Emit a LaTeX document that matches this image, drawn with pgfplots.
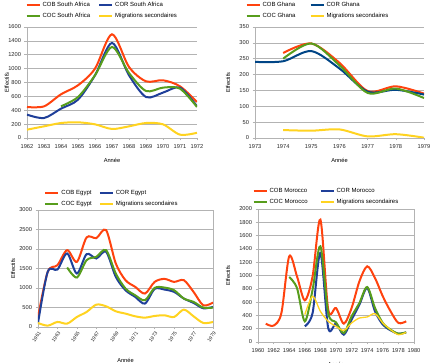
\documentclass[border=0pt]{standalone}
\usepackage{fontspec}
\setmainfont{Liberation Sans}
\usepackage{pgfplots}
\pgfplotsset{compat=1.18}
\definecolor{cob}{HTML}{FF420E}
\definecolor{cor}{HTML}{1F3F99}
\definecolor{corg}{HTML}{004586}
\definecolor{coc}{HTML}{579D1C}
\definecolor{mig}{HTML}{FFD320}
\definecolor{gridc}{HTML}{B3B3B3}
\pgfplotsset{
 base/.style={
  scale only axis,
  axis line style={gridc, line width=0.6pt},
  ymajorgrids, grid style={gridc, line width=0.6pt},
  tick style={gridc, line width=0.5pt},
  major tick length=2.5pt,
  xtick align=outside, ytick align=outside,
  xtick pos=bottom, ytick pos=left,
  tick label style={font=\fontsize{5.7}{6}\selectfont, text=black!85},
  /pgf/number format/assume math mode=true,
  /pgf/number format/1000 sep={},
  label style={font=\fontsize{5.7}{6}\selectfont},
  legend style={draw=none, fill=none, font=\fontsize{6}{7}\selectfont, inner sep=0pt, anchor=north west, row sep=1pt},
  legend cell align=left,
  legend columns=2,
  legend image code/.code={\draw[##1, line width=2pt] (0pt,0pt) -- (13pt,0pt);},
  every axis plot/.append style={smooth, line width=2pt, no marks},
  xlabel={Année}, ylabel={Effectifs},
 },
 open/.style={axis x line*=bottom, axis y line*=left},
}
\begin{document}
\begin{tikzpicture}
\useasboundingbox (0,0) rectangle (431pt,363pt);
% ---------- South Africa
\begin{axis}[base, open, at={(27pt,225pt)}, anchor=south west, width=170pt, height=111pt,
  xmin=1962, xmax=1972, ymin=0, ymax=1600, xtick={1962,...,1972}, ytick={0,200,...,1600},
  xlabel style={at={(axis description cs:0.5,-0.198)}, anchor=center},
  ylabel style={at={(axis description cs:-0.118,0.5)}, anchor=center},
  legend style={at={(axis description cs:-0.01,1.243)}, /tikz/every even column/.append style={column sep=6pt}}]
\addplot[cob] coordinates {(1962,447) (1963,456) (1964,630) (1965,760) (1966,1000) (1967,1495) (1968,1024) (1969,817) (1970,832) (1971,745) (1972,519)};
\addlegendentry{COB South Africa}
\addplot[cor] coordinates {(1962,337) (1963,288) (1964,423) (1965,553) (1966,904) (1967,1370) (1968,904) (1969,591) (1970,654) (1971,726) (1972,457)};
\addlegendentry{COR South Africa}
\addplot[coc] coordinates {(1964,457) (1965,591) (1966,904) (1967,1312) (1968,937) (1969,678) (1970,726) (1971,711) (1972,447)};
\addlegendentry{COC South Africa}
\addplot[mig] coordinates {(1962,120) (1963,168) (1964,216) (1965,226) (1966,197) (1967,130) (1968,168) (1969,216) (1970,197) (1971,48) (1972,75)};
\addlegendentry{Migrations secondaires}
\end{axis}
% ---------- Ghana
\begin{axis}[base, open, at={(255pt,225pt)}, anchor=south west, width=169pt, height=111pt,
  xmin=1973, xmax=1979, ymin=0, ymax=350, xtick={1973,...,1979}, ytick={0,50,...,350},
  xlabel style={at={(axis description cs:0.5,-0.198)}, anchor=center},
  ylabel style={at={(axis description cs:-0.16,0.5)}, anchor=center},
  legend style={at={(axis description cs:-0.057,1.243)}, /tikz/every even column/.append style={column sep=12pt}}]
\addplot[cob] coordinates {(1974,268) (1975,298) (1976,237) (1977,148) (1978,163) (1979,140)};
\addlegendentry{COB Ghana}
\addplot[corg] coordinates {(1973,240) (1974,242) (1975,274) (1976,219) (1977,146) (1978,152) (1979,137)};
\addlegendentry{COR Ghana}
\addplot[coc] coordinates {(1974,250) (1975,298) (1976,229) (1977,142) (1978,156) (1979,126)};
\addlegendentry{COC Ghana}
\addplot[mig] coordinates {(1974,25) (1975,23) (1976,27) (1977,5) (1978,12) (1979,1)};
\addlegendentry{Migrations secondaires}
\end{axis}
% ---------- Egypt
\begin{axis}[base, at={(38pt,36pt)}, anchor=south west, width=175pt, height=117pt,
  xmin=1961, xmax=1979, ymin=0, ymax=3000, xtick={1961,1963,...,1979}, ytick={0,500,...,3000},
  xticklabel style={rotate=55, anchor=north east, inner sep=1pt, font=\fontsize{5}{6}\selectfont},
  xlabel style={at={(axis description cs:0.5,-0.282)}, anchor=center},
  ylabel style={at={(axis description cs:-0.143,0.5)}, anchor=center},
  legend style={at={(axis description cs:0.036,1.188)}, /tikz/every even column/.append style={column sep=5pt}}]
\addplot[cob] coordinates {(1961,250) (1962,1414) (1963,1586) (1964,1971) (1965,1671) (1966,2297) (1967,2280) (1968,2486) (1969,1629) (1970,1200) (1971,1029) (1972,857) (1973,1157) (1974,1234) (1975,1157) (1976,1200) (1977,900) (1978,557) (1979,626)};
\addlegendentry{COB Egypt}
\addplot[cor] coordinates {(1961,100) (1962,1414) (1963,1474) (1964,1886) (1965,1371) (1966,1869) (1967,1757) (1968,1929) (1969,1286) (1970,943) (1971,771) (1972,600) (1973,977) (1974,960) (1975,900) (1976,729) (1977,617) (1978,480) (1979,514)};
\addlegendentry{COR Egypt}
\addplot[coc] coordinates {(1964,1526) (1965,1269) (1966,1714) (1967,1800) (1968,1971) (1969,1371) (1970,986) (1971,814) (1972,686) (1973,1003) (1974,1011) (1975,943) (1976,729) (1977,643) (1978,497) (1979,497)};
\addlegendentry{COC Egypt}
\addplot[mig] coordinates {(1961,103) (1962,34) (1963,129) (1964,86) (1965,257) (1966,386) (1967,574) (1968,531) (1969,403) (1970,343) (1971,274) (1972,240) (1973,283) (1974,300) (1975,257) (1976,446) (1977,274) (1978,103) (1979,129)};
\addlegendentry{Migrations secondaires}
\end{axis}
% ---------- Morocco
\begin{axis}[base, at={(258pt,21pt)}, anchor=south west, width=156pt, height=133pt,
  xmin=1960, xmax=1980, ymin=0, ymax=2000, xtick={1960,1962,...,1980}, ytick={0,200,...,2000},
  xlabel style={at={(axis description cs:0.5,-0.165)}, anchor=center},
  ylabel style={at={(axis description cs:-0.192,0.5)}, anchor=center},
  legend style={at={(axis description cs:-0.036,1.173)}, /tikz/every even column/.append style={column sep=10pt}}]
\addplot[cob] coordinates {(1961,276) (1962,246) (1963,436) (1964,1288) (1965,987) (1966,627) (1967,987) (1968,1840) (1969,486) (1970,511) (1971,276) (1972,511) (1973,912) (1974,1138) (1975,962) (1976,687) (1977,461) (1978,286) (1979,311)};
\addlegendentry{COB Morocco}
\addplot[cor] coordinates {(1966,236) (1967,436) (1968,1338) (1969,211) (1970,276) (1971,110) (1972,336) (1973,561) (1974,812) (1975,461) (1976,261) (1977,175) (1978,125) (1979,145)};
\addlegendentry{COR Morocco}
\addplot[coc] coordinates {(1964,977) (1965,812) (1966,311) (1967,787) (1968,1439) (1969,436) (1970,296) (1971,135) (1972,386) (1973,586) (1974,827) (1975,511) (1976,286) (1977,185) (1978,125) (1979,145)};
\addlegendentry{COC Morocco}
\addplot[mig, line width=1.3pt] coordinates {(1966,411) (1967,687) (1968,461) (1969,311) (1970,236) (1971,175) (1972,286) (1973,361) (1974,376) (1975,426) (1976,286) (1977,185) (1978,110) (1979,145)};
\addlegendentry{Migrations secondaires}
\end{axis}
\end{tikzpicture}
\end{document}
